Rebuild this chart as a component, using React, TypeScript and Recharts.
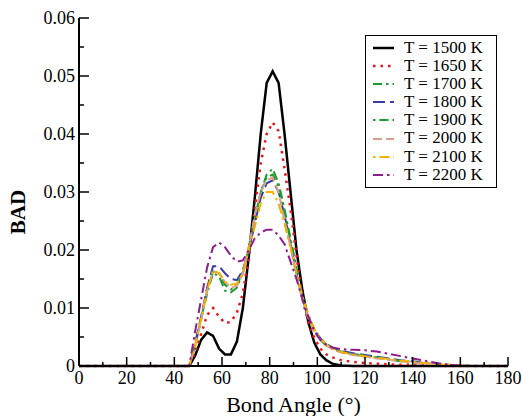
import React from 'react';
import { LineChart, Line, XAxis, YAxis, Label } from 'recharts';

// bond angle grid (degrees)
const angles = [
  0, 10, 20, 30, 40, 46.25, 48.75, 51.25, 53.75, 56.25, 58.75, 61.25, 63.75, 66.25, 68.75,
  71.25, 73.75, 76.25, 78.75, 81.25, 83.75, 86.25, 88.75, 91.25, 93.75, 96.25, 98.75,
  101.25, 103.75, 106.25, 110, 115, 120, 125, 130, 135, 140, 145, 150, 155, 160, 165, 170, 175, 180,
];

const bad1500 = [
  0, 0, 0, 0, 0, 0, 0.0018, 0.0045, 0.0058, 0.0052, 0.003, 0.002, 0.002, 0.0042, 0.01,
  0.019, 0.029, 0.04, 0.0488, 0.0508, 0.0488, 0.04, 0.03, 0.02, 0.013, 0.0075, 0.004,
  0.002, 0.001, 0.0004, 0.0001, 0, 0, 0, 0, 0, 0, 0, 0, 0, 0, 0, 0, 0, 0,
];
const bad1650 = [
  0, 0, 0, 0, 0, 0, 0.0025, 0.0055, 0.0088, 0.01, 0.0085, 0.0074, 0.0076, 0.0092, 0.0125,
  0.019, 0.027, 0.035, 0.04, 0.042, 0.0405, 0.034, 0.027, 0.019, 0.0115, 0.0075, 0.0048,
  0.003, 0.002, 0.0015, 0.001, 0.0007, 0.0005, 0.0004, 0.0003, 0.0002, 0.0002, 0.0001, 0.0001, 0, 0, 0, 0, 0, 0,
];
const bad1700 = [
  0, 0, 0, 0, 0, 0, 0.0035, 0.008, 0.0125, 0.016, 0.0155, 0.013, 0.0127, 0.0135, 0.016,
  0.02, 0.025, 0.03, 0.033, 0.034, 0.0315, 0.027, 0.022, 0.017, 0.012, 0.0085, 0.006,
  0.0045, 0.0035, 0.003, 0.0024, 0.002, 0.0017, 0.0014, 0.0011, 0.0008, 0.0006, 0.0004, 0.0002, 0.0001, 0, 0, 0, 0, 0,
];
const bad1800 = [
  0, 0, 0, 0, 0, 0, 0.004, 0.0085, 0.0135, 0.0172, 0.0172, 0.016, 0.015, 0.0148, 0.0165,
  0.02, 0.0245, 0.029, 0.0315, 0.032, 0.03, 0.026, 0.021, 0.016, 0.0115, 0.0085, 0.0062,
  0.0048, 0.0038, 0.0032, 0.0026, 0.0022, 0.0019, 0.0016, 0.0013, 0.001, 0.0008, 0.0005, 0.0003, 0.0002, 0.0001, 0, 0, 0, 0,
];
const bad1900 = [
  0, 0, 0, 0, 0, 0, 0.0038, 0.0082, 0.013, 0.0163, 0.016, 0.014, 0.0132, 0.014, 0.0162,
  0.0205, 0.0255, 0.03, 0.0325, 0.033, 0.031, 0.0265, 0.0215, 0.0165, 0.012, 0.0088, 0.0063,
  0.0047, 0.0036, 0.003, 0.0025, 0.0021, 0.0018, 0.0015, 0.0012, 0.0009, 0.0007, 0.0005, 0.0003, 0.0002, 0.0001, 0, 0, 0, 0,
];
const bad2000 = [
  0, 0, 0, 0, 0, 0, 0.0035, 0.008, 0.013, 0.0163, 0.016, 0.0145, 0.0135, 0.0138, 0.016,
  0.0205, 0.026, 0.03, 0.032, 0.0325, 0.03, 0.025, 0.0205, 0.0155, 0.0115, 0.0082, 0.006,
  0.0045, 0.0035, 0.0029, 0.0023, 0.0019, 0.0016, 0.0013, 0.0011, 0.0008, 0.0006, 0.0004, 0.0003, 0.0001, 0.0001, 0, 0, 0, 0,
];
const bad2100 = [
  0, 0, 0, 0, 0, 0, 0.0036, 0.0082, 0.013, 0.0165, 0.016, 0.0145, 0.014, 0.0142, 0.016,
  0.02, 0.024, 0.028, 0.03, 0.03, 0.028, 0.0245, 0.0205, 0.016, 0.012, 0.0088, 0.0063,
  0.0048, 0.0037, 0.003, 0.0024, 0.002, 0.0017, 0.0014, 0.0012, 0.0009, 0.0007, 0.0005, 0.0003, 0.0002, 0.0001, 0, 0, 0, 0,
];
const bad2200 = [
  0, 0, 0, 0, 0, 0, 0.006, 0.0115, 0.017, 0.0205, 0.0213, 0.0205, 0.019, 0.018, 0.0182,
  0.02, 0.022, 0.023, 0.0235, 0.0235, 0.0225, 0.021, 0.018, 0.015, 0.0115, 0.0085, 0.006,
  0.0045, 0.0037, 0.0032, 0.0029, 0.0028, 0.0027, 0.0025, 0.0021, 0.0017, 0.0013, 0.0009, 0.0005, 0.0002, 0.0001, 0, 0, 0, 0,
];

const xTicks = [0, 10, 20, 30, 40, 50, 60, 70, 80, 90, 100, 110, 120, 130, 140, 150, 160, 170, 180];
const yTicks = [0, 0.005, 0.01, 0.015, 0.02, 0.025, 0.03, 0.035, 0.04, 0.045, 0.05, 0.055, 0.06];

const series = [
  { key: 't1500', name: 'T = 1500 K', values: bad1500, color: '#000000', dash: undefined, width: 2.5 },
  { key: 't1650', name: 'T = 1650 K', values: bad1650, color: '#e8141c', dash: '2.5 5', width: 2.5 },
  { key: 't1700', name: 'T = 1700 K', values: bad1700, color: '#1e9a30', dash: '9 4 2.5 4', width: 2 },
  { key: 't1800', name: 'T = 1800 K', values: bad1800, color: '#3a3aa8', dash: '12 5', width: 2 },
  { key: 't1900', name: 'T = 1900 K', values: bad1900, color: '#1e9a30', dash: '2.5 4 9 4', width: 2 },
  { key: 't2000', name: 'T = 2000 K', values: bad2000, color: '#d6a090', dash: '9 4', width: 2 },
  { key: 't2100', name: 'T = 2100 K', values: bad2100, color: '#f5b000', dash: '2.5 4 10 4', width: 2 },
  { key: 't2200', name: 'T = 2200 K', values: bad2200, color: '#8e1c8e', dash: '10 4 2.5 4', width: 2 },
];

const data = angles.map((a, i) => {
  const row: Record<string, number> = { angle: a };
  series.forEach(s => { row[s.key] = s.values[i]; });
  return row;
});

const FONT = "'Times New Roman', 'Liberation Serif', 'DejaVu Serif', serif";

const XTick = (props: any) => {
  const { x, y, payload } = props;
  const v = payload.value as number;
  const major = v % 20 === 0;
  return (
    <g>
      <line x1={x} x2={x} y1={y} y2={y - (major ? 9 : 4)} stroke="#000" strokeWidth={1.5} />
      {major && (
        <text x={x} y={y + 12} textAnchor="middle" dominantBaseline="central" style={{ fontFamily: FONT }} fontSize={18} fill="#000">
          {v}
        </text>
      )}
    </g>
  );
};

const YTick = (props: any) => {
  const { x, y, payload } = props;
  const v = payload.value as number;
  const major = Math.round(v * 1000) % 10 === 0;
  return (
    <g>
      <line x1={x} x2={x + (major ? 10 : 5)} y1={y} y2={y} stroke="#000" strokeWidth={1.5} />
      {major && (
        <text x={x - 4} y={y} textAnchor="end" dominantBaseline="central" style={{ fontFamily: FONT }} fontSize={18} fill="#000">
          {v === 0 ? '0' : v.toFixed(2)}
        </text>
      )}
    </g>
  );
};

const LegendBox = () => (
  <div
    style={{
      position: 'absolute',
      left: 365,
      top: 35,
      width: 124,
      border: '1.5px solid #000',
      background: '#fff',
      padding: '3px 0 3px 6px',
      fontFamily: FONT,
      fontSize: 17,
      lineHeight: '18.1px',
    }}
  >
    {series.map(s => (
      <div key={s.key} style={{ display: 'flex', alignItems: 'center', whiteSpace: 'nowrap' }}>
        <svg width={24} height={10} style={{ marginRight: 8 }}>
          <line x1={1} x2={22} y1={5} y2={5} stroke={s.color} strokeWidth={s.width} strokeDasharray={s.dash} />
        </svg>
        <span>{s.name}</span>
      </div>
    ))}
  </div>
);

export default function App() {
  return (
    <div style={{ position: 'absolute', left: 0, top: 0, width: 522, height: 416, background: '#fff', fontFamily: FONT }}>
      <LineChart width={522} height={416} data={data} margin={{ top: 18, right: 14, bottom: 0, left: 0 }}>
        <XAxis
          dataKey="angle"
          type="number"
          domain={[0, 180]}
          ticks={xTicks}
          interval={0}
          height={50}
          tickSize={0}
          tickMargin={0}
          tickLine={false}
          tick={<XTick />}
          axisLine={{ stroke: '#000', strokeWidth: 2 }}
        >
          <Label
            content={() => (
              <text x={293.5} y={404} textAnchor="middle" dominantBaseline="central" style={{ fontFamily: FONT }} fontSize={22} fill="#000">
                Bond Angle (°)
              </text>
            )}
          />
        </XAxis>
        <XAxis
          xAxisId="top"
          orientation="top"
          dataKey="angle"
          type="number"
          domain={[0, 180]}
          height={0}
          tick={false}
          tickLine={false}
          axisLine={{ stroke: '#000', strokeWidth: 2 }}
        />
        <YAxis
          type="number"
          domain={[0, 0.06]}
          ticks={yTicks}
          interval={0}
          width={79}
          tickSize={0}
          tickMargin={0}
          tickLine={false}
          tick={<YTick />}
          axisLine={{ stroke: '#000', strokeWidth: 2 }}
        >
          <Label
            content={() => (
              <text
                x={18}
                y={212}
                transform="rotate(-90 18 212)"
                textAnchor="middle"
                dominantBaseline="central"
                style={{ fontFamily: FONT }}
                fontSize={21}
                fontWeight="bold"
                fill="#000"
              >
                BAD
              </text>
            )}
          />
        </YAxis>
        <YAxis
          yAxisId="right"
          orientation="right"
          type="number"
          domain={[0, 0.06]}
          width={0}
          tick={false}
          tickLine={false}
          axisLine={{ stroke: '#000', strokeWidth: 2 }}
        />
        {series.map(s => (
          <Line
            key={s.key}
            dataKey={s.key}
            name={s.name}
            type="linear"
            stroke={s.color}
            strokeWidth={s.width}
            strokeDasharray={s.dash}
            dot={false}
            activeDot={false}
            isAnimationActive={false}
          />
        ))}
      </LineChart>
      <LegendBox />
    </div>
  );
}
